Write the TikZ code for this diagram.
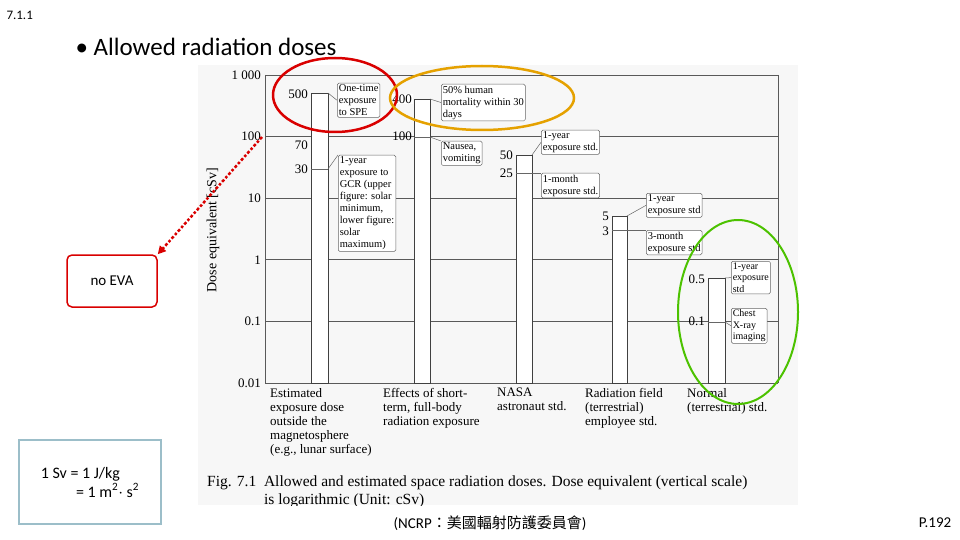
\documentclass[tikz,border=0pt]{standalone}
\usepackage{fontspec}
\setmainfont{Carlito}
\newfontfamily\scan{Liberation Serif}
\newfontfamily\cjk{Noto Sans CJK TC}
\usetikzlibrary{arrows.meta}
\begin{document}
\begin{tikzpicture}[x=1pt,y=-1pt,
  grid/.style={gray!70!black,line width=0.7pt},
  bar/.style={draw=black!75,line width=0.9pt,fill=white},
  call/.style={draw=black!60,fill=white,rounded corners=1.5pt,line width=0.5pt,inner sep=1.5pt,align=left,font=\scan\fontsize{10.5}{12}\selectfont,anchor=north west},
  tick/.style={font=\scan\fontsize{13}{13}\selectfont,anchor=east,inner sep=1pt},
  cat/.style={font=\scan\fontsize{13}{14}\selectfont,anchor=north west,align=left,inner sep=0pt},
  lead/.style={draw=black!60,line width=0.5pt}]
\useasboundingbox (0,0) rectangle (960,540);
\fill[white] (0,0) rectangle (960,540);
\fill[black!3] (198,65) rectangle (798,505);
\foreach \d/\lab in {3/1 000,2/100,1/10,0/1,-1/0.1,-2/0.01}{
  \draw[grid] (265,{383-61.6*(\d+2)}) -- (778,{383-61.6*(\d+2)});
  \node[tick] at (262,{383-61.6*(\d+2)}) {\lab};}
\draw[grid] (265,75) -- (265,383) (778,75) -- (778,383);
\node[rotate=90,font=\scan\fontsize{14}{14}\selectfont] (ylab) at (213,230) {Dose equivalent [cSv]};
% bars
\draw[bar] (311,383) rectangle (328,{383-61.6*(log10(500)+2)});
\draw[lead] (311,{383-61.6*(log10(30)+2)}) -- (328,{383-61.6*(log10(30)+2)});
\draw[bar] (414,383) rectangle (430,{383-61.6*(log10(400)+2)});
\draw[lead] (414,137) -- (430,137);
\draw[bar] (516,383) rectangle (532,{383-61.6*(log10(50)+2)});
\draw[lead] (516,{383-61.6*(log10(25)+2)}) -- (532,{383-61.6*(log10(25)+2)});
\draw[bar] (612,383) rectangle (627,{383-61.6*(log10(5)+2)});
\draw[lead] (612,{383-61.6*(log10(3)+2)}) -- (627,{383-61.6*(log10(3)+2)});
\draw[bar] (708,383) rectangle (725,{383-61.6*(log10(0.5)+2)});
\draw[lead] (708,322) -- (725,322);
% value labels
\node[tick] at (309,94) {500};
\node[tick] at (309,145) {70};
\node[tick] at (309,169) {30};
\node[tick,fill=white] at (413,99) {400};
\node[tick] at (413,136) {100};
\node[tick] at (514,155) {50};
\node[tick] at (514,173) {25};
\node[tick] at (610,216) {5};
\node[tick] at (610,231) {3};
\node[tick] at (706,279) {0.5};
\node[tick] at (706,321) {0.1};
% callouts
\node[call] (c1) at (337,83) {One-time\\exposure\\to SPE};
\node[call] (c2) at (338,155) {1-year\\exposure to\\GCR (upper\\figure: solar\\minimum,\\lower figure:\\solar\\maximum)};
\node[call] (c3) at (441,84) {50\% human\\mortality within 30\\days};
\node[call] (c4) at (441,141) {Nausea,\\vomiting};
\node[call] (c5) at (541,130) {1-year\\exposure std.};
\node[call] (c6) at (541,173) {1-month\\exposure std.};
\node[call] (c7) at (646,193) {1-year\\exposure std};
\node[call] (c8) at (646,230) {3-month\\exposure std};
\node[call,font=\scan\fontsize{10}{11.5}\selectfont] (c9) at (731,261) {1-year\\exposure\\std};
\node[call,font=\scan\fontsize{10}{11.5}\selectfont] (c10) at (731,308) {Chest\\X-ray\\imaging};
\draw[lead] (328,93) -- (c1.west);
\draw[lead] (328,169) -- (c2.north west);
\draw[lead] (430,99) -- (c3.west);
\draw[lead] (430,137) -- (c4.north west);
\draw[lead] (532,155) -- (c5.west);
\draw[lead] (532,173) -- (c6.north west);
\draw[lead] (627,216) -- (c7.west);
\draw[lead] (627,230) -- (c8.north west);
\draw[lead] (725,278) -- (c9.west);
\draw[lead] (725,322) -- (c10.west);
% categories
\node[cat] at (270,388) {Estimated\\exposure dose\\outside the\\magnetosphere\\(e.g., lunar surface)};
\node[cat] at (383,388) {Effects of short-\\term, full-body\\radiation exposure};
\node[cat] at (497,388) {NASA\\astronaut std.};
\node[cat] at (585,388) {Radiation field\\(terrestrial)\\employee std.};
\node[cat] at (687,388) {Normal\\(terrestrial) std.};
\begin{scope}
\clip (198,470) rectangle (798,505);
\node[cat,font=\scan\fontsize{15.5}{17.5}\selectfont] at (207,476) {Fig. 7.1\ \ Allowed and estimated space radiation doses. Dose equivalent (vertical scale)\\\phantom{Fig. 7.1\ \ }is logarithmic (Unit: cSv)};
\end{scope}
% annotations
\draw[red!85!black,line width=2.5pt] (335,95) ellipse [x radius=62,y radius=37];
\draw[orange!60!yellow!90!black,line width=2.5pt] (482,98) ellipse [x radius=92,y radius=32];
\draw[green!60!black!60!lime,line width=2pt] (738,312) ellipse [x radius=60,y radius=92];
\node[draw=red!85!black,line width=1.5pt,rounded corners=5pt,minimum width=90,minimum height=52,font=\fontsize{15}{15}\selectfont] (eva) at (112,281) {no EVA};
\coordinate (src) at (262,137);
\draw[red!85!black,line width=2.5pt,dash dot,-{Triangle[length=8pt,width=8pt]}] (src) -- (eva.north east);
\node[draw=blue!25!cyan!30!gray!60,line width=2.5pt,minimum width=142,minimum height=84,align=left,font=\fontsize{16}{19}\selectfont] (unit) at (90,482) {1 Sv = 1 J/kg\\\hspace*{2.2em}= 1 m\textsuperscript{2}$\cdot$ s\textsuperscript{2}};
\node[anchor=west,font=\fontsize{25}{25}\selectfont] (title) at (72,47) {• Allowed radiation doses};
\node[anchor=west,font=\fontsize{13}{13}\selectfont] (num) at (3,15) {7.1.1};
\node[font=\fontsize{15}{15}\selectfont] (src2) at (490,523) {(NCRP{\cjk ：美國輻射防護委員會})};
\node[font=\fontsize{15}{15}\selectfont] (pg) at (935,523) {P.192};
\end{tikzpicture}
\end{document}
